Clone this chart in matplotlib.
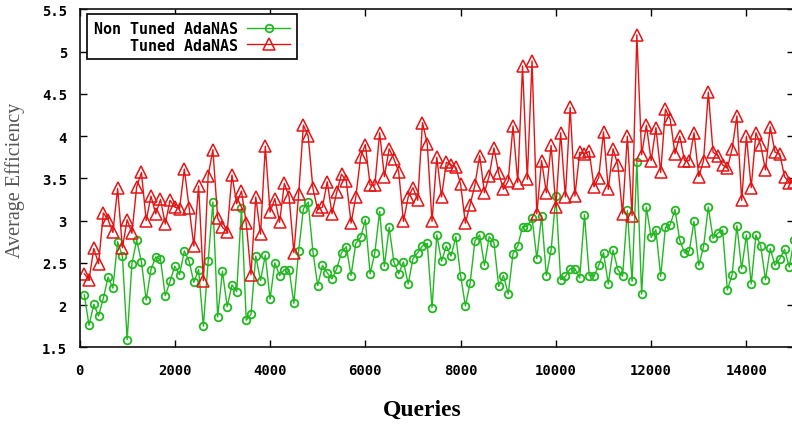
import numpy as np
import matplotlib
matplotlib.use("Agg")
import matplotlib.pyplot as plt
from matplotlib.ticker import FormatStrFormatter

# sampled every 100 queries
queries = np.arange(100, 15001, 100)

non_tuned = [
    2.12, 1.76, 2.01, 1.87, 2.08, 2.33, 2.20, 2.75, 2.58, 1.59,
    2.49, 2.77, 2.51, 2.06, 2.42, 2.57, 2.54, 2.11, 2.28, 2.46,
    2.36, 2.64, 2.52, 2.27, 2.42, 1.75, 2.52, 3.22, 1.86, 2.40,
    1.98, 2.24, 2.16, 3.15, 1.82, 1.89, 2.58, 2.29, 2.59, 2.07,
    2.50, 2.35, 2.42, 2.42, 2.02, 2.64, 3.14, 3.22, 2.63, 2.23,
    2.47, 2.38, 2.31, 2.43, 2.62, 2.69, 2.35, 2.73, 2.80, 3.01,
    2.37, 2.62, 3.11, 2.46, 2.92, 2.51, 2.37, 2.51, 2.25, 2.55,
    2.62, 2.70, 2.73, 1.97, 2.83, 2.52, 2.70, 2.58, 2.81, 2.35,
    1.99, 2.26, 2.76, 2.83, 2.47, 2.81, 2.74, 2.22, 2.35, 2.13,
    2.61, 2.70, 2.93, 2.93, 3.03, 2.55, 3.06, 2.35, 2.65, 3.29,
    2.30, 2.34, 2.43, 2.43, 2.32, 3.07, 2.35, 2.34, 2.47, 2.62,
    2.25, 2.65, 2.42, 2.34, 3.12, 2.28, 3.69, 2.13, 3.16, 2.80,
    2.89, 2.34, 2.92, 2.95, 3.13, 2.77, 2.62, 2.64, 2.99, 2.47,
    2.69, 3.16, 2.79, 2.85, 2.89, 2.18, 2.36, 2.94, 2.43, 2.83,
    2.25, 2.83, 2.70, 2.30, 2.67, 2.47, 2.55, 2.66, 2.45, 2.77,
]

tuned = [
    2.37, 2.30, 2.67, 2.49, 3.09, 3.01, 2.86, 3.38, 2.68, 3.01,
    2.85, 3.40, 3.57, 3.00, 3.29, 3.08, 3.25, 2.96, 3.24, 3.16,
    3.14, 3.61, 3.15, 2.70, 3.41, 2.29, 3.53, 3.84, 3.03, 2.92,
    2.87, 3.54, 3.20, 3.35, 2.97, 2.36, 3.28, 2.84, 3.88, 3.10,
    3.26, 2.98, 3.44, 3.28, 2.62, 3.31, 4.13, 4.00, 3.38, 3.13,
    3.16, 3.46, 3.08, 3.34, 3.55, 3.47, 2.97, 3.28, 3.75, 3.90,
    3.42, 3.42, 4.04, 3.52, 3.85, 3.73, 3.58, 2.99, 3.28, 3.39,
    3.24, 4.16, 3.91, 2.99, 3.75, 3.28, 3.69, 3.66, 3.63, 3.43,
    2.97, 3.19, 3.42, 3.77, 3.33, 3.53, 3.86, 3.56, 3.37, 3.47,
    4.12, 3.45, 4.83, 3.49, 4.89, 3.08, 3.71, 3.33, 3.89, 3.16,
    4.04, 3.28, 4.34, 3.29, 3.81, 3.79, 3.82, 3.40, 3.51, 4.05,
    3.37, 3.85, 3.66, 3.08, 4.00, 3.06, 5.20, 3.78, 4.13, 3.71,
    4.10, 3.57, 4.32, 4.20, 3.79, 4.00, 3.71, 3.71, 4.04, 3.52,
    3.71, 4.52, 3.81, 3.77, 3.66, 3.62, 3.85, 4.24, 3.24, 4.00,
    3.39, 4.04, 3.89, 3.60, 4.11, 3.81, 3.79, 3.52, 3.45, 3.46,
]

xticks = [0, 2000, 4000, 6000, 8000, 10000, 12000, 14000]
yticks = [1.5, 2, 2.5, 3, 3.5, 4, 4.5, 5, 5.5]

tickfont = {'family': 'DejaVu Sans Mono', 'weight': 'bold', 'size': 10}

fig = plt.figure(figsize=(7.92, 4.27), dpi=100)
ax = fig.add_axes([0.1004, 0.1843, 0.9022, 0.7913])

ax.plot(queries, non_tuned, '-', color='#22b822', lw=1.0,
        marker='o', ms=5.5, mfc='none', mec='#22b822', mew=1.3,
        label='Non Tuned AdaNAS')
ax.plot(queries, tuned, '-', color='#e41414', lw=1.0,
        marker='^', ms=8, mfc='none', mec='#e41414', mew=1.1,
        label='    Tuned AdaNAS')

ax.set_xlim(0, 15000)
ax.set_ylim(1.5, 5.5)
ax.set_xticks(xticks)
ax.set_yticks(yticks)
ax.yaxis.set_major_formatter(FormatStrFormatter('%g'))
ax.tick_params(direction='in', length=5, width=1, top=True, right=True)
for lab in ax.get_xticklabels() + ax.get_yticklabels():
    lab.set_fontproperties(tickfont)
ax.tick_params(axis='y', pad=9)
ax.tick_params(axis='x', pad=11)
for s in ax.spines.values():
    s.set_linewidth(1.2)
    s.set_color('#111111')

leg = ax.legend(loc='upper left', bbox_to_anchor=(0.0105, 0.986),
                borderaxespad=0, markerfirst=False, numpoints=1,
                handlelength=2.9, handletextpad=0.6, borderpad=0.45,
                labelspacing=0.12, fancybox=False, framealpha=1,
                edgecolor='black',
                prop={'family': 'DejaVu Sans Mono', 'weight': 'bold',
                      'size': 10.8})
leg.get_frame().set_linewidth(1.2)

fig.text(15 / 792, 1 - 180 / 427, 'Average Efficiency', rotation=90,
         ha='center', va='center', family='Liberation Serif',
         fontsize=14.5, color='#555555')
fig.text(422 / 792, 1 - 410 / 427, 'Queries', ha='center', va='center',
         family='Liberation Serif', fontweight='bold', fontsize=17)

fig.savefig('out.png', dpi=100)
